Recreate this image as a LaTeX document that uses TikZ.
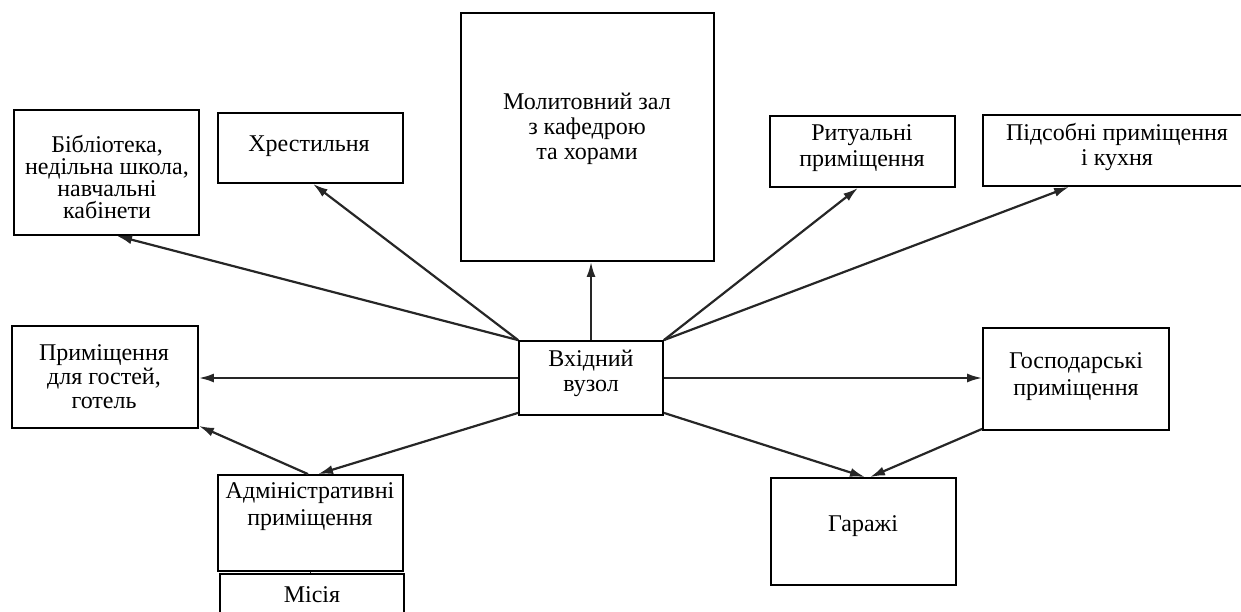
\documentclass[tikz,border=0pt]{standalone}
\usepackage{fontspec}
\setmainfont{Liberation Serif}
\usetikzlibrary{arrows.meta}
\begin{document}
\begin{tikzpicture}[x=1pt,y=-1pt,
  box/.style={draw=black,line width=1.8pt,inner sep=0pt,minimum width=#1},
  txt/.style={align=center,inner sep=0pt,font=\fontsize{24}{25}\selectfont},
  conn/.style={draw=black!85,line width=2.2pt,-{Latex[length=15pt,width=9pt]}},
  link/.style={draw=black!85,line width=1.5pt}]
\useasboundingbox (0,0) rectangle (1241,612);
% boxes
\node[box=185pt,minimum height=125pt] (bib) at (106.5,172.5) {};
\node[box=185pt,minimum height=70pt] (khr) at (310.5,148) {};
\node[box=253pt,minimum height=248pt] (mol) at (587.5,137) {};
\node[box=185pt,minimum height=71pt] (rit) at (862.5,151.5) {};
\node[box=268pt,minimum height=71pt] (pid) at (1117,150.5) {};
\node[box=186pt,minimum height=102pt] (prym) at (105,377) {};
\node[box=144pt,minimum height=74pt] (vkh) at (591,378) {};
\node[box=186pt,minimum height=102pt] (gosp) at (1076,379) {};
\node[box=185pt,minimum height=96pt] (adm) at (310.5,523) {};
\node[box=184pt,minimum height=66pt] (mis) at (312,607) {};
\node[box=185pt,minimum height=107pt] (gar) at (863.5,531.5) {};
% texts
\node[txt,font=\fontsize{24}{21.7}\selectfont] (bibt) at (107,177) {Бібліотека,\\недільна школа,\\навчальні\\кабінети};
\node[txt] (khrt) at (309,146) {Хрестильня};
\node[txt] (molt) at (587,129) {Молитовний зал\\з кафедрою\\та хорами};
\node[txt,font=\fontsize{24}{26.5}\selectfont] (ritt) at (862,148) {Ритуальні\\приміщення};
\node[txt] (pidt) at (1117,147) {Підсобні приміщення\\і кухня};
\node[txt,font=\fontsize{24}{24}\selectfont] (prymt) at (104,377) {Приміщення\\для гостей,\\готель};
\node[txt] (vkht) at (591,373) {Вхідний\\вузол};
\node[txt,font=\fontsize{24}{27}\selectfont] (gospt) at (1076,377) {Господарські\\приміщення};
\node[txt,font=\fontsize{24}{27}\selectfont] (admt) at (310,507) {Адміністративні\\приміщення};
\node[txt] (gart) at (863,526) {Гаражі};
\node[txt] (mist) at (312,595) {Місія};
% connectors
\draw[conn] (vkh.north west) -- ([xshift=10.5pt]bib.south);
\draw[conn] (vkh.north west) -- ([xshift=2.5pt]khr.south);
\draw[conn] (vkh.north) -- (vkh.north |- mol.south);
\draw[conn] (vkh.north east) -- ([xshift=-4.5pt]rit.south);
\draw[conn] (vkh.north east) -- ([xshift=87pt]pid.south west);
\draw[conn] (vkh.west) -- (vkh.west -| prym.east);
\draw[conn] (vkh.east) -- (vkh.east -| gosp.west);
\draw[conn] ([yshift=3pt]vkh.south west) -- ([xshift=7.5pt]adm.north);
\draw[conn] ([xshift=-2.5pt]adm.north) -- ([yshift=3pt]prym.south east);
\draw[conn] ([yshift=3pt]vkh.south east) -- ([xshift=1.5pt]gar.north);
\draw[conn] ([yshift=2pt]gosp.south west) -- ([xshift=6.5pt]gar.north);
\draw[link] (adm.south) -- (adm.south |- mis.north);
\end{tikzpicture}
\end{document}
